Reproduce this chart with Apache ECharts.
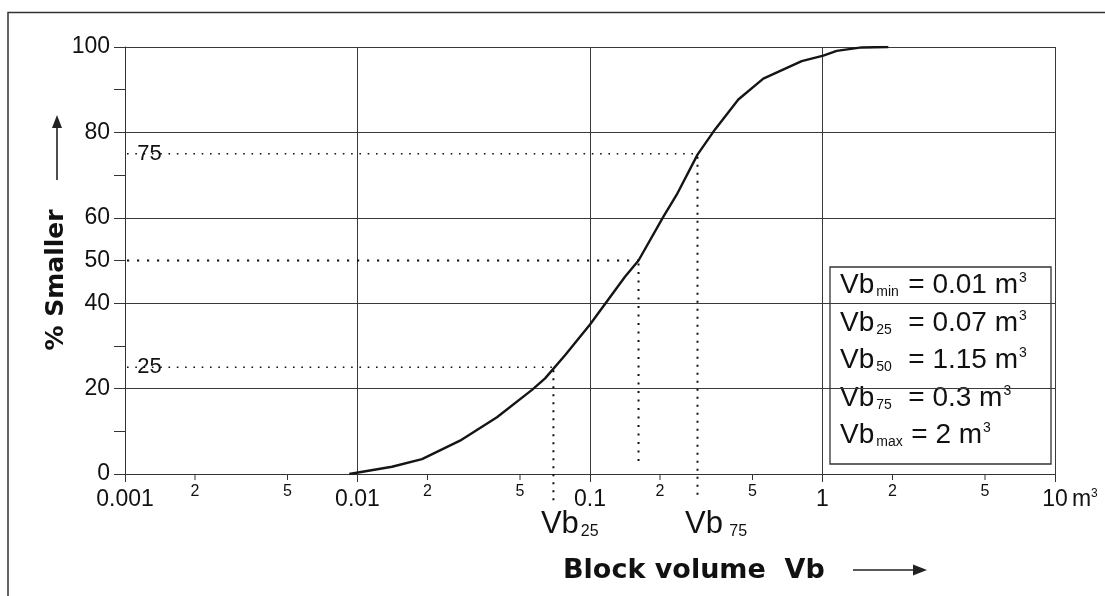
<!DOCTYPE html>
<html><head><meta charset="utf-8">
<script src="https://cdn.jsdelivr.net/npm/echarts@6/dist/echarts.min.js"></script>
<style>html,body{margin:0;padding:0;background:#fff}#c{width:1105px;height:596px}</style>
</head><body><div id="c"></div>
<script>
// ---- data ----
const curveVb  = [0.00922,0.01407,0.01894,0.0276,0.0398,0.0563,0.0641,0.0781,0.1,0.1414,0.1617,0.2066,0.236,0.29,0.345,0.4345,0.5564,0.814,1.008,1.151,1.474,1.919];
const curvePct = [0,1.7,3.5,7.8,13.3,19.7,22.4,27.8,35.0,46.2,50.0,60.2,65.4,74.8,80.7,87.7,92.6,96.7,98.0,99.1,99.9,100];
const quantPct = [25, 50, 75];
const quantVb  = [0.0696, 0.1617, 0.29];
const quantInnerLabels = ['25', '', '75'];
const quantBelowSub = ['25', '', ' 75'];
const xMajorLabels = ['0.001', '0.01', '0.1', '1', '10'];
const minorVb = [0.002,0.005,0.02,0.05,0.2,0.5,2,5];
const minorLabels = ['2','5','2','5','2','5','2','5'];
const yLabelValues = [0,20,40,50,60,80,100];
const legendSub = ['min','25','50','75','max'];
const legendVal = ['0.01','0.07','1.15','0.3','2'];

const REG = '"Liberation Sans", Arial, sans-serif';
const BOLD = '"DejaVu Sans", sans-serif';
const INK = '#111';
const GRID = '#3a3a3a';

// ---- annotation styles (per quantile) ----
const qStyle = [
  {hW:1.3, hDash:[1.6,6.7], vW:2, vDash:[2,6], vExt:28},
  {hW:2,   hDash:[2.2,7.8], vW:2, vDash:[2,6.5], vExt:-7},
  {hW:1.3, hDash:[1.6,6.7], vW:2, vDash:[2,6], vExt:21}
];

const chart = echarts.init(document.getElementById('c'), null, {renderer:'canvas'});

const legendChildren = [{
  type:'rect', shape:{x:0,y:0,width:221,height:197},
  style:{fill:'#fff', stroke:'#333', lineWidth:1.3}
}];
legendSub.forEach((s,i)=>{
  const sk = (i===4) ? 's5' : 's';
  legendChildren.push({
    type:'text', x:10, y:18.3 + i*37.5,
    style:{
      text:`{v|Vb}{${sk}|${s}}{e|= ${legendVal[i]} m}{p|3}`,
      align:'left', verticalAlign:'middle',
      rich:{
        v:{fontFamily:REG, fontSize:28, lineHeight:28, fill:INK, verticalAlign:'middle'},
        s:{fontFamily:REG, fontSize:14, lineHeight:8, fill:INK, verticalAlign:'bottom', width:32, padding:[0,0,0,2]},
        s5:{fontFamily:REG, fontSize:14, lineHeight:8, fill:INK, verticalAlign:'bottom', width:35, padding:[0,0,0,2]},
        e:{fontFamily:REG, fontSize:28, lineHeight:28, fill:INK, verticalAlign:'middle'},
        p:{fontFamily:REG, fontSize:14, lineHeight:14, fill:INK, verticalAlign:'top', padding:[0,0,0,1]}
      }
    }
  });
});

const option = {
  animation:false,
  backgroundColor:'#fff',
  grid:{left:125, right:50, top:47, bottom:122, outerBoundsMode:'none', containLabel:false},
  xAxis:{
    type:'log', logBase:10, min:0.001, max:10,
    axisLine:{show:true, lineStyle:{color:'#333', width:1}},
    axisTick:{show:true, length:8, lineStyle:{color:'#333'}},
    minorTick:{show:false},
    axisLabel:{
      margin:14, color:INK, fontFamily:REG, fontSize:23,
      formatter:(v)=>{
        const idx = Math.round(Math.log10(v)) + 3;
        const t = xMajorLabels[idx];
        if (idx === 4) return `{pad|}{n|${t}}{u|m}{sup|3}`;
        return t;
      },
      rich:{
        pad:{width:30},
        n:{fontFamily:REG, fontSize:23, color:INK},
        u:{fontFamily:REG, fontSize:23, color:INK, padding:[0,0,0,4]},
        sup:{fontFamily:REG, fontSize:12, lineHeight:12, color:INK, verticalAlign:'top'}
      }
    },
    splitLine:{show:true, lineStyle:{color:GRID, width:1}}
  },
  yAxis:{
    type:'value', min:0, max:100, interval:10,
    axisLine:{show:true, lineStyle:{color:'#333', width:1}},
    axisTick:{show:true, length:11, lineStyle:{color:'#333'}},
    axisLabel:{margin:15, color:INK, fontFamily:REG, fontSize:23,
      formatter:(v)=> yLabelValues.includes(v) ? String(v) : ''},
    splitLine:{show:true, lineStyle:{color:[GRID,'rgba(0,0,0,0)'], width:1}}
  },
  series:[
    {
      type:'line', data: curveVb.map((v,i)=>[v, curvePct[i]]),
      showSymbol:false, symbol:'none', smooth:false, z:5,
      lineStyle:{color:'#151515', width:2.4}
    },
    {
      type:'custom', z:4, silent:true,
      data: minorVb.map((v)=>[v, 0]),
      encode:{x:0, y:1},
      renderItem:(params, api)=>{
        const p = api.coord([api.value(0), 0]);
        return {type:'group', children:[
          {type:'line', shape:{x1:p[0], y1:p[1], x2:p[0], y2:p[1]+6}, style:{stroke:'#333', lineWidth:1}},
          {type:'text', x:p[0], y:p[1]+18, style:{text:minorLabels[params.dataIndex], fontFamily:REG, fontSize:16, fill:INK, align:'center', verticalAlign:'middle'}}
        ]};
      }
    },
    {
      type:'custom', z:4, silent:true,
      data: quantVb.map((v,i)=>[v, quantPct[i]]),
      encode:{x:0, y:1},
      renderItem:(params, api)=>{
        const i = params.dataIndex;
        const st = qStyle[i];
        const pq = api.coord([api.value(0), api.value(1)]);
        const pl = api.coord([0.001, api.value(1)]);
        const p0 = api.coord([api.value(0), 0]);
        const ch = [
          {type:'line', shape:{x1:pl[0]+2, y1:pq[1], x2:pq[0], y2:pq[1]},
            style:{stroke:INK, lineWidth:st.hW, lineDash:st.hDash}},
          {type:'line', shape:{x1:pq[0], y1:pq[1]+3, x2:pq[0], y2:p0[1]+st.vExt},
            style:{stroke:INK, lineWidth:st.vW, lineDash:st.vDash}}
        ];
        if (quantInnerLabels[i]) {
          ch.push({type:'text', x:pl[0]+24.5, y:pq[1], style:{text:quantInnerLabels[i], fontFamily:REG, fontSize:22, fill:INK, align:'center', verticalAlign:'middle'}});
        }
        if (quantBelowSub[i]) {
          ch.push({type:'text', x:pq[0]-12.5, y:p0[1]+50.3, style:{
            text:`{v|Vb}{s|${quantBelowSub[i]}}`, align:'left', verticalAlign:'middle',
            rich:{
              v:{fontFamily:REG, fontSize:31, lineHeight:31, fill:INK, verticalAlign:'middle'},
              s:{fontFamily:REG, fontSize:16, lineHeight:10.6, fill:INK, verticalAlign:'bottom', padding:[0,0,0,2]}
            }}});
        }
        return {type:'group', children:ch};
      }
    }
  ],
  graphic:{elements:[
    {type:'polyline', shape:{points:[[8,700],[8,12.5],[1200,12.5]]}, style:{stroke:'#333', lineWidth:1.5, fill:null}, silent:true},
    {type:'text', x:56, y:280, rotation:Math.PI/2, style:{text:'% Smaller', fontFamily:BOLD, fontWeight:'bold', fontSize:25, fill:INK, align:'center', verticalAlign:'middle'}},
    {type:'line', shape:{x1:57, y1:180, x2:57, y2:126}, style:{stroke:'#222', lineWidth:1.6}},
    {type:'polygon', shape:{points:[[57,115],[52,128],[62,128]]}, style:{fill:'#222'}},
    {type:'text', x:563, y:570.7, style:{text:'Block volume  Vb', fontFamily:BOLD, fontWeight:'bold', fontSize:27, fill:INK, align:'left', verticalAlign:'middle'}},
    {type:'line', shape:{x1:853, y1:570, x2:915, y2:570}, style:{stroke:'#222', lineWidth:1.6}},
    {type:'polygon', shape:{points:[[927,570],[913,564.5],[913,575.5]]}, style:{fill:'#222'}},
    {type:'group', x:830, y:267, z:100, children:legendChildren}
  ]}
};
chart.setOption(option);
</script>
</body></html>
